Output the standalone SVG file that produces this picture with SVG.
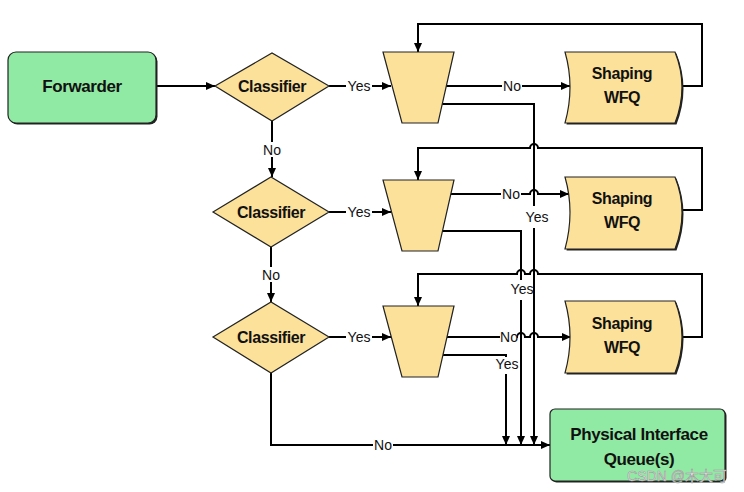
<svg xmlns="http://www.w3.org/2000/svg" width="744" height="492" viewBox="0 0 744 492">
  <defs>
    <marker id="arr" markerUnits="userSpaceOnUse" markerWidth="9" markerHeight="8" refX="9" refY="4" orient="auto">
      <path d="M0,0 L9,4 L0,8 z" fill="#000"/>
    </marker>
    <style>
      .big { font-family: "Liberation Sans", Arial, sans-serif; font-weight: bold; font-size: 17px; fill: #111; text-anchor: middle; letter-spacing: -0.4px; }
      .mid { font-family: "Liberation Sans", Arial, sans-serif; font-weight: bold; font-size: 16px; fill: #111; text-anchor: middle; letter-spacing: -0.4px; }
      .lbl { font-family: "Liberation Sans", Arial, sans-serif; font-size: 14px; fill: #111; text-anchor: middle; }
      .green { fill: #91EAA4; stroke: #222; stroke-width: 1.2; }
      .yellow { fill: #FCE19B; stroke: #222; stroke-width: 1.2; }
      .shadow { fill: #222; }
      .conn { fill: none; stroke: #000; stroke-width: 2; }
      .bg { fill: #fff; }
    </style>
  </defs>
  <rect width="744" height="492" fill="#fff"/>

  <g id="connectors">
    <path class="conn" d="M156,86 H215" marker-end="url(#arr)"/>
    <path class="conn" d="M329,86 H391" marker-end="url(#arr)"/>
    <path class="conn" d="M329,212 H391" marker-end="url(#arr)"/>
    <path class="conn" d="M329,337 H391" marker-end="url(#arr)"/>
    <path class="conn" d="M272,121 V177" marker-end="url(#arr)"/>
    <path class="conn" d="M271,247 V302" marker-end="url(#arr)"/>
    <path class="conn" d="M271,373 V445 H550" marker-end="url(#arr)"/>
    <!-- row 1 -->
    <path class="conn" d="M681,86 H702 V24 H418 V52" marker-end="url(#arr)"/>
    <path class="conn" d="M446,86 H570" marker-end="url(#arr)"/>
    <path class="conn" d="M442,104 H534 V445" marker-end="url(#arr)"/>
    <!-- row 2 -->
    <path class="conn" d="M681,210 H702 V148 H538 a4,4 0 0 0 -8,0 H418 V180" marker-end="url(#arr)"/>
    <path class="conn" d="M451,194 H530 a4,4 0 0 1 8,0 H569" marker-end="url(#arr)"/>
    <path class="conn" d="M442,231 H521 V445" marker-end="url(#arr)"/>
    <!-- row 3 -->
    <path class="conn" d="M681,337 H702 V274 H538 a4,4 0 0 0 -8,0 H525 a4,4 0 0 0 -8,0 H418 V306" marker-end="url(#arr)"/>
    <path class="conn" d="M447,337 H517 a4,4 0 0 1 8,0 H530 a4,4 0 0 1 8,0 H571" marker-end="url(#arr)"/>
    <path class="conn" d="M443,355 H506 V445" marker-end="url(#arr)"/>

    <!-- labels -->
    <rect class="bg" x="346" y="79" width="26" height="14"/>
    <text class="lbl" x="359" y="91">Yes</text>
    <rect class="bg" x="346" y="205" width="26" height="14"/>
    <text class="lbl" x="359" y="217">Yes</text>
    <rect class="bg" x="346" y="330" width="26" height="14"/>
    <text class="lbl" x="359" y="342">Yes</text>

    <rect class="bg" x="262" y="142" width="20" height="15"/>
    <text class="lbl" x="272" y="155">No</text>
    <rect class="bg" x="261" y="267" width="20" height="15"/>
    <text class="lbl" x="271" y="280">No</text>
    <rect class="bg" x="373" y="438" width="20" height="14"/>
    <text class="lbl" x="383" y="450">No</text>

    <rect class="bg" x="502" y="79" width="20" height="14"/>
    <text class="lbl" x="512" y="91">No</text>
    <rect class="bg" x="501" y="187" width="20" height="14"/>
    <text class="lbl" x="511" y="199">No</text>
    <rect class="bg" x="500" y="330" width="17" height="14"/>
    <text class="lbl" x="509" y="342">No</text>

    <rect class="bg" x="524" y="206" width="27" height="22"/>
    <text class="lbl" x="537" y="222">Yes</text>
    <rect class="bg" x="510" y="280" width="22" height="20"/>
    <text class="lbl" x="522" y="294">Yes</text>
    <rect class="bg" x="494" y="357" width="25" height="17"/>
    <text class="lbl" x="507" y="369">Yes</text>
  </g>

  <g id="forwarder">
    <rect class="shadow" x="9.5" y="53.5" width="148" height="71" rx="8"/>
    <rect class="green" x="8" y="52" width="148" height="71" rx="8"/>
    <text class="big" x="82" y="92">Forwarder</text>
  </g>

  <g id="classifier1">
    <polygon class="yellow" points="215,86 272,53 329,86 272,121"/>
    <text class="mid" x="272" y="92">Classifier</text>
  </g>
  <g id="classifier2">
    <polygon class="yellow" points="213,212 271,177 329,212 271,247"/>
    <text class="mid" x="271" y="218">Classifier</text>
  </g>
  <g id="classifier3">
    <polygon class="yellow" points="213,337 271,302 329,337 271,373"/>
    <text class="mid" x="271" y="343">Classifier</text>
  </g>

  <g id="queue1">
    <polygon class="yellow" points="383,52 454,52 438,123 402,123"/>
  </g>
  <g id="queue2">
    <polygon class="yellow" points="383,180 454,180 438,251 402,251"/>
  </g>
  <g id="queue3">
    <polygon class="yellow" points="383,306 454,306 438,377 402,377"/>
  </g>

  <g id="shaping1">
    <path class="shadow" d="M566.5,53.5 H676.5 Q690.5,88.5 676.5,124.5 H566.5 Q576.5,88.5 566.5,53.5 Z"/>
    <path class="yellow" d="M565,52 H675 Q689,87 675,123 H565 Q575,87 565,52 Z"/>
    <text class="mid" x="622" y="79">Shaping</text>
    <text class="mid" x="622" y="103">WFQ</text>
  </g>
  <g id="shaping2">
    <path class="shadow" d="M566.5,178.5 H676.5 Q690.5,213.5 676.5,250.5 H566.5 Q576.5,213.5 566.5,178.5 Z"/>
    <path class="yellow" d="M565,177 H675 Q689,212 675,249 H565 Q575,212 565,177 Z"/>
    <text class="mid" x="622" y="204">Shaping</text>
    <text class="mid" x="622" y="228">WFQ</text>
  </g>
  <g id="shaping3">
    <path class="shadow" d="M566.5,302.5 H676.5 Q690.5,338.5 676.5,374.5 H566.5 Q576.5,338.5 566.5,302.5 Z"/>
    <path class="yellow" d="M565,301 H675 Q689,337 675,373 H565 Q575,337 565,301 Z"/>
    <text class="mid" x="622" y="329">Shaping</text>
    <text class="mid" x="622" y="353">WFQ</text>
  </g>

  <g id="physical">
    <rect class="shadow" x="551.5" y="410.5" width="175" height="72" rx="5"/>
    <rect class="green" x="550" y="409" width="175" height="72" rx="5"/>
    <text class="big" x="639" y="440">Physical Interface</text>
    <text class="big" x="639" y="465">Queue(s)</text>
  </g>

  <text x="677" y="481" font-family="'Liberation Sans', 'Noto Sans CJK SC', sans-serif" font-size="14" fill="#f2f2f2" stroke="#9a9a9a" stroke-width="0.6" text-anchor="middle">CSDN @木大可</text>
</svg>
